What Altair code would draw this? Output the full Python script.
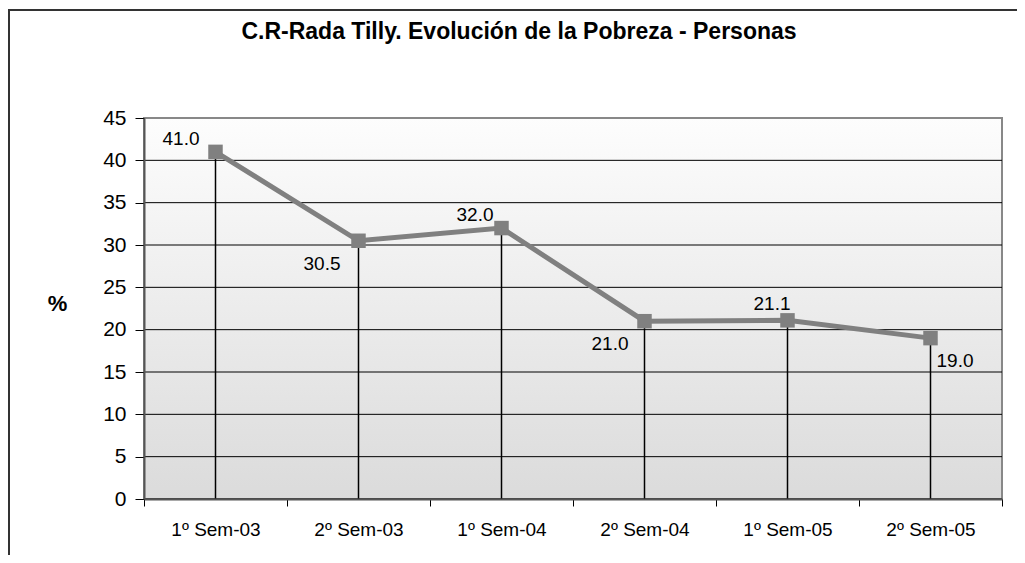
import altair as alt
import pandas as pd

categories = ["1º Sem-03", "2º Sem-03", "1º Sem-04", "2º Sem-04", "1º Sem-05", "2º Sem-05"]
values = [41.0, 30.5, 32.0, 21.0, 21.1, 19.0]
y_ticks = [0, 5, 10, 15, 20, 25, 30, 35, 40, 45]
title_text = "C.R-Rada Tilly. Evolución de la Pobreza - Personas"

# label placement (dx, dy, align) per point - styling only
label_style = [(-16, -13, "right"), (-18, 23, "right"), (-8, -13, "right"),
               (-16, 23, "right"), (3, -16, "right"), (6, 23, "left")]

df = pd.DataFrame({"periodo": categories, "valor": values})
df["label"] = df["valor"].map(lambda v: f"{v:.1f}")
grid_df = pd.DataFrame({"valor": y_ticks[:-1]})
one = pd.DataFrame({"k": [0]})

FONT = "Liberation Sans"
W, H = 858, 381

x_enc = alt.X("periodo:N", sort=categories,
              scale=alt.Scale(type="band", paddingInner=0, paddingOuter=0),
              axis=alt.Axis(title=None, labelAngle=0, labelFontSize=19, labelColor="black",
                            labelPadding=14, tickBand="extent", tickSize=7, tickColor="black",
                            tickWidth=1, domainColor="#555555", domainWidth=2, grid=False,
                            zindex=1))
y_scale = alt.Scale(domain=[0, 45], nice=False)
y_axis = alt.Axis(values=y_ticks, title="%", titleAngle=0, titleFontSize=22,
                  titleFontWeight="bold", titleX=-87, titleY=185, titleAlign="center",
                  titleBaseline="middle", titleColor="black",
                  labelFontSize=21, labelColor="black", labelPadding=9,
                  tickSize=9, tickColor="black", tickWidth=1,
                  domainColor="#555555", domainWidth=2, grid=False, zindex=1)
y_enc = alt.Y("valor:Q", scale=y_scale, axis=y_axis)

base = alt.Chart(df)

frame = alt.Chart(one).mark_rect(
    fill=None, stroke="#333333", strokeWidth=2
).encode(x=alt.value(-135), x2=alt.value(900), y=alt.value(-108), y2=alt.value(470))

bg = alt.Chart(one).mark_rect(
    color=alt.LinearGradient(gradient="linear", x1=0, y1=0, x2=0, y2=1,
                             stops=[alt.GradientStop(offset=0, color="#fdfdfd"),
                                    alt.GradientStop(offset=1, color="#dbdbdb")]),
    stroke="#888888", strokeWidth=2
).encode(x=alt.value(0), x2=alt.value(W), y=alt.value(0), y2=alt.value(H))

grid = alt.Chart(grid_df).mark_rule(color="black", strokeWidth=1).encode(
    y=y_enc, x=alt.value(0), x2=alt.value(W))

drops = base.mark_rule(color="black", strokeWidth=1.5).encode(
    x=x_enc, y=y_enc, y2=alt.datum(0))

line = base.mark_line(color="#808080", strokeWidth=5).encode(x=x_enc, y=y_enc)

points = base.mark_square(size=210, color="#808080", opacity=1, filled=True).encode(
    x=x_enc, y=y_enc)

texts = []
for cat, (dx, dy, align) in zip(categories, label_style):
    texts.append(
        base.transform_filter(alt.datum.periodo == cat).mark_text(
            dx=dx, dy=dy, align=align, baseline="middle", fontSize=19, color="black", font=FONT
        ).encode(x=x_enc, y=y_enc, text="label:N")
    )

chart = alt.layer(frame, bg, grid, drops, line, points, *texts).properties(
    width=W, height=H,
    title=alt.TitleParams(title_text, fontSize=23, fontWeight="bold", font=FONT, color="black",
                          anchor="middle", dx=-54, offset=-53, baseline="alphabetic"),
    autosize=alt.AutoSizeParams(type="none"),
    padding={"left": 136, "top": 110, "right": 15, "bottom": 56},
).configure(font=FONT).configure_view(stroke=None).configure_axis(labelFont=FONT, titleFont=FONT)

chart.save("out.html", embed_options={"renderer": "svg", "actions": False})
